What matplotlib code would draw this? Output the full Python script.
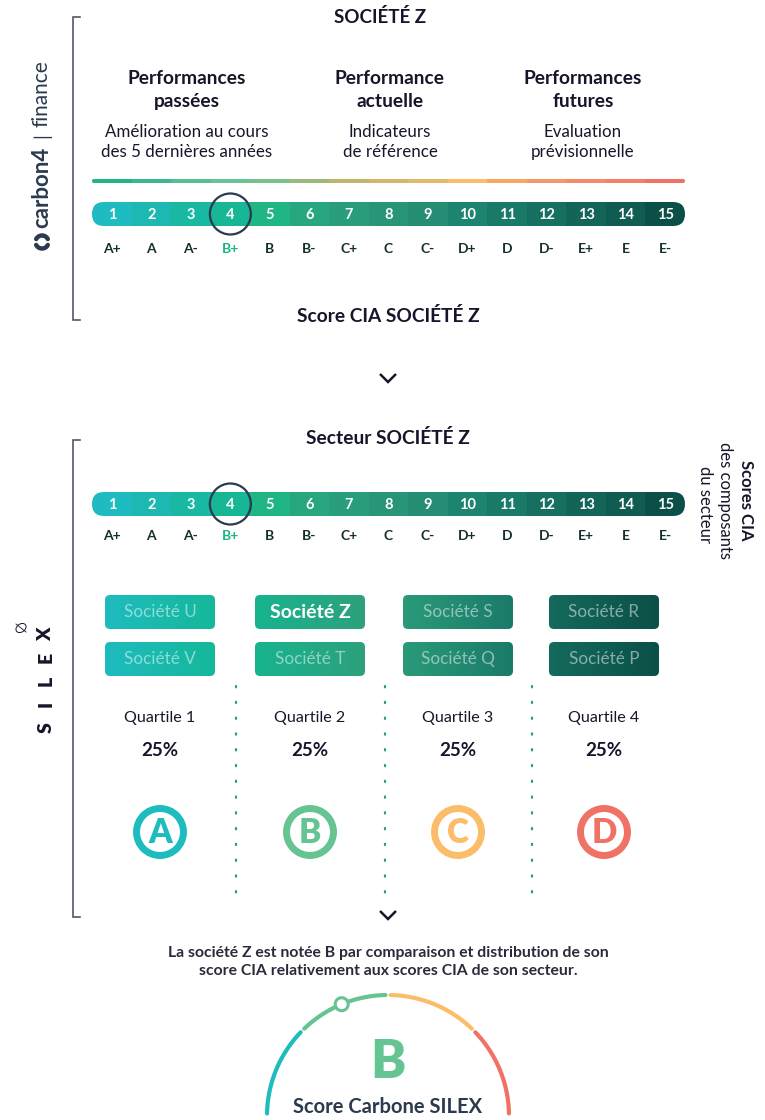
import numpy as np
import matplotlib.pyplot as plt
from matplotlib.patches import FancyBboxPatch, Rectangle, Circle, Ellipse
from matplotlib.colors import LinearSegmentedColormap

plt.rcParams['font.family'] = ['Lato', 'DejaVu Sans']

# --- Data ---
scores = list(range(1, 16))
grades = ['A+', 'A', 'A-', 'B+', 'B', 'B-', 'C+', 'C', 'C-', 'D+', 'D', 'D-', 'E+', 'E', 'E-']
company_score = 4
bar_colors = ['#1ebbc0', '#1cb8b1', '#18b8a2', '#17b795', '#1fb585', '#27a680', '#2a9e7c',
              '#299578', '#248d74', '#1c846f', '#1a7a68', '#16705f', '#136558', '#105c51', '#0b5048']
trend_colors = ['#22b484', '#3db88d', '#58bd8f', '#68c396', '#7ac08c', '#9cb97c', '#beb571',
                '#d4b56c', '#e2b86c', '#fbbd69', '#f8a764', '#f79868', '#f68a6a', '#f4806a', '#f07266']
section_titles = ['Performances\npassées', 'Performance\nactuelle', 'Performances\nfutures']
section_texts = ['Amélioration au cours\ndes 5 dernières années', 'Indicateurs\nde référence',
                 'Evaluation\nprévisionnelle']
companies_top = ['Société U', 'Société Z', 'Société S', 'Société R']
companies_bottom = ['Société V', 'Société T', 'Société Q', 'Société P']
highlight = 'Société Z'
quartiles = ['Quartile 1', 'Quartile 2', 'Quartile 3', 'Quartile 4']
shares = [25, 25, 25, 25]
letters = ['A', 'B', 'C', 'D']
letter_colors = ['#1fbcbf', '#66c493', '#fbbd69', '#f07266']
box_colors = [('#1ebcbf', '#15b89a'), ('#17b48e', '#2ea07d'), ('#2a9a79', '#1b7b69'), ('#146a5c', '#0b5048')]
final_grade = 'B'
# ------------

DARK = '#16162a'
NAVY = '#2b3a4e'
BRACKET = '#55556a'

fig = plt.figure(figsize=(7.65, 11.2), dpi=100)
ax = fig.add_axes([0, 0, 1, 1])
ax.set_xlim(0, 765)
ax.set_ylim(1120, 0)
ax.axis('off')

X0, X1 = 92, 685
SEG = (X1 - X0) / len(scores)


def rounded_strip(y, h, colors, z=2):
    outline = FancyBboxPatch((X0, y - h / 2), X1 - X0, h,
                             boxstyle=f'round,pad=0,rounding_size={h / 2}', fc='none', ec='none')
    ax.add_patch(outline)
    for i, c in enumerate(colors):
        r = Rectangle((X0 + SEG * i, y - h / 2), SEG + 0.6, h, fc=c, ec='none', zorder=z)
        ax.add_patch(r)
        r.set_clip_path(outline)


def score_bar(y, label_y):
    rounded_strip(y, 24, bar_colors)
    for i, (s, g) in enumerate(zip(scores, grades)):
        cx = X0 + SEG * (i + 0.5)
        ax.text(cx, y + 1, str(s), color='white', fontsize=10.5, fontweight='bold',
                ha='center', va='center', zorder=4)
        gc = '#1db587' if s == company_score else '#14302e'
        ax.text(cx, label_y, g, color=gc, fontsize=10, fontweight='bold',
                ha='center', va='center', zorder=4)
    cx = X0 + SEG * (company_score - 0.5)
    ax.add_patch(Circle((cx, y), 20.5, fill=False, ec=NAVY, lw=1.6, zorder=5))


def bracket(y0, y1):
    ax.plot([80, 73, 73, 80], [y0, y0, y1, y1], color=BRACKET, lw=1.2, solid_joinstyle='miter')


def chevron(cx, cy):
    ax.plot([cx - 8, cx, cx + 8], [cy - 4, cy + 4, cy - 4], color=DARK, lw=1.8,
            solid_capstyle='butt', solid_joinstyle='miter')


# ---- Top block (carbon4 finance) ----
bracket(17, 320)
ax.text(380, 17, 'SOCIÉTÉ Z', fontsize=13.5, fontweight='bold', color=DARK, ha='center', va='center')
for cx, t, s in zip([187, 390, 583], section_titles, section_texts):
    ax.text(cx, 90, t, fontsize=13.8, fontweight='bold', color=DARK, ha='center', va='center',
            linespacing=1.38)
    ax.text(cx, 142, s, fontsize=12.2, color=DARK, ha='center', va='center', linespacing=1.28)
rounded_strip(181, 4.5, trend_colors)
score_bar(214, 249)
ax.text(388, 316, 'Score CIA SOCIÉTÉ Z', fontsize=13.8, fontweight='bold', color=DARK,
        ha='center', va='center')

# carbon4 logo (vertical)
ax.text(42, 187, 'carbon4', rotation=90, fontsize=16, fontweight='bold', color=NAVY,
        ha='center', va='center')
ax.text(42, 136, '|', rotation=90, fontsize=14, color=NAVY, ha='center', va='center')
ax.text(42, 94, 'finance', rotation=90, fontsize=15, color=NAVY,
        ha='center', va='center')
t = np.linspace(0, 1, 30)
for a0 in [np.pi * 0.15, np.pi * 1.15]:
    ang = a0 + t * np.pi * 0.7
    ax.plot(42 + 6.5 * np.cos(ang), 242 - 6.5 * np.sin(ang), color=NAVY, lw=3.2, solid_capstyle='round')

chevron(388, 378)

# ---- Sector block (SILEX) ----
bracket(440, 917)
ax.text(388, 438, 'Secteur SOCIÉTÉ Z', fontsize=13.8, fontweight='bold', color=DARK,
        ha='center', va='center')
score_bar(504, 536)
ax.text(746, 500, 'Scores CIA', rotation=-90, fontsize=12, fontweight='bold', color=DARK,
        ha='center', va='center')
ax.text(725, 500, 'des composants', rotation=-90, fontsize=12, color=DARK, ha='center', va='center')
ax.text(705, 504, 'du secteur', rotation=-90, fontsize=12, color=DARK, ha='center', va='center')

# SILEX logo
for ch, yy in zip('SILEX', [728, 704, 681, 657, 634]):
    ax.text(46, yy, ch, rotation=90, fontsize=14, fontweight='heavy', color=DARK,
            ha='center', va='center')
ax.add_patch(Ellipse((21, 628), 11, 8, angle=-35, fill=False, ec=DARK, lw=0.7))
ax.plot([16, 26], [624, 632], color=DARK, lw=0.6)

col_x = [160, 310, 458, 604]
bw, bh = 110, 34
for j, (cx, (c0, c1)) in enumerate(zip(col_x, box_colors)):
    cmap = LinearSegmentedColormap.from_list(f'g{j}', [c0, c1])
    for name, cy in [(companies_top[j], 612), (companies_bottom[j], 659)]:
        patch = FancyBboxPatch((cx - bw / 2, cy - bh / 2), bw, bh,
                               boxstyle='round,pad=0,rounding_size=5', fc='none', ec='none')
        ax.add_patch(patch)
        im = ax.imshow(np.linspace(0, 1, 64).reshape(1, -1), cmap=cmap, aspect='auto',
                       extent=(cx - bw / 2, cx + bw / 2, cy + bh / 2, cy - bh / 2), zorder=2)
        im.set_clip_path(patch)
        if name == highlight:
            ax.text(cx, cy, name, fontsize=14, fontweight='bold', color='white',
                    ha='center', va='center', zorder=4)
        else:
            ax.text(cx, cy, name, fontsize=12.3, color='white', alpha=0.5,
                    ha='center', va='center', zorder=4)

for xa, xb in zip(col_x[:-1], col_x[1:]):
    xs = (xa + xb) / 2 + 1
    ax.plot([xs, xs], [686, 893], color='#1fa57f', lw=1.6, ls=(0, (0.6, 6.5)),
            dash_capstyle='round')

for cx, q, s, l, lc in zip(col_x, quartiles, shares, letters, letter_colors):
    ax.text(cx, 718, q, fontsize=11.6, color=DARK, ha='center', va='center')
    ax.text(cx, 751, f'{s}%', fontsize=13.5, fontweight='bold', color=DARK, ha='center', va='center')
    ax.add_patch(Circle((cx, 832), 23.5, fill=False, ec=lc, lw=5))
    ax.text(cx, 833, l, fontsize=24, fontweight='heavy', color=lc, ha='center', va='center')

ax.set_xlim(0, 765)
ax.set_ylim(1120, 0)

chevron(388, 915)

# ---- Result ----
ax.text(388, 962, 'La société Z est notée B par comparaison et distribution de son\n'
        'score CIA relativement aux scores CIA de son secteur.',
        fontsize=11.3, fontweight='bold', color='#2a2a3a', ha='center', va='center', linespacing=1.35)

acx, acy, ar = 388, 1116, 121
gap = 1.2
for k, lc in enumerate(letter_colors):
    a_start = 180 - 45 * k - gap
    a_end = 180 - 45 * (k + 1) + gap
    ang = np.radians(np.linspace(a_start, a_end, 60))
    ax.plot(acx + ar * np.cos(ang), acy - ar * np.sin(ang), color=lc, lw=3, solid_capstyle='round')
k = letters.index(final_grade)
ma = np.radians(180 - 45 * (k + 0.5))
ax.add_patch(Circle((acx + ar * np.cos(ma), acy - ar * np.sin(ma)), 6.5, fc='white',
                    ec=letter_colors[k], lw=2.2, zorder=5))
ax.text(388, 1062, final_grade, fontsize=38, fontweight='heavy', color=letter_colors[k],
        ha='center', va='center')
ax.text(388, 1107, 'Score Carbone SILEX', fontsize=14.5, fontweight='bold', color=NAVY,
        ha='center', va='center')

fig.savefig('out.png', dpi=100)
